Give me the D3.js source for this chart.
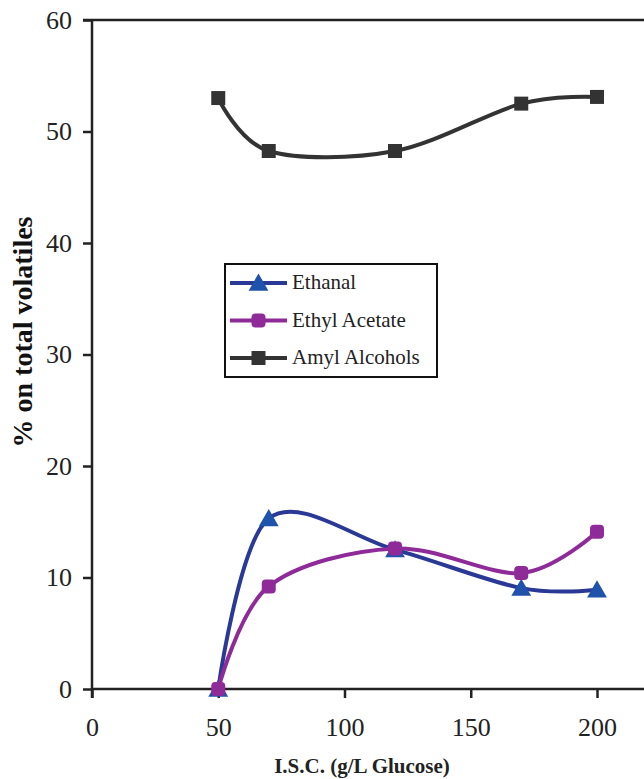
<!DOCTYPE html>
<html>
<head>
<meta charset="utf-8">
<script src="https://cdn.jsdelivr.net/npm/d3@7"></script>
<style>
  body { margin: 0; background: #fff; }
  svg { display: block; }
</style>
</head>
<body>
<script>
// DATA
var glucose = [50, 70, 120, 170, 200];
var ethanal = [0, 15.3, 12.5, 9.05, 8.9];
var ethylAcetate = [0, 9.2, 12.6, 10.4, 14.1];
var amylAlcohols = [53.0, 48.25, 48.25, 52.5, 53.1];
var xTicks = [0, 50, 100, 150, 200];
var yTicks = [0, 10, 20, 30, 40, 50, 60];
var seriesNames = ["Ethanal", "Ethyl Acetate", "Amyl Alcohols"];

var serif = "'Liberation Serif', 'Times New Roman', serif";

// CHART STRUCTURE
var svgWidth = 644, svgHeight = 779;
var margin = {top: 20, left: 92};
var chartWidth = 552;   // axis runs off the right edge
var chartHeight = 669;

var svg = d3.select("body").append("svg")
  .attr("width", svgWidth)
  .attr("height", svgHeight)
  .attr("font-family", serif);

var chartGroup = svg.append("g")
  .attr("transform", `translate(${margin.left}, ${margin.top})`);

// SCALES
var xScale = d3.scaleLinear().domain([0, 200]).range([0, 505]);
var yScale = d3.scaleLinear().domain([0, 60]).range([chartHeight, 0]);

// AXES
var xAxis = d3.axisBottom(xScale).tickValues(xTicks).tickSize(9).tickPadding(20);
var yAxis = d3.axisLeft(yScale).tickValues(yTicks).tickSize(9).tickPadding(11);

var gx = chartGroup.append("g")
  .attr("transform", `translate(0, ${chartHeight})`)
  .call(xAxis);
gx.attr("font-family", serif).attr("font-size", 26);
gx.select(".domain").remove();
gx.selectAll("line").attr("stroke", "#222").attr("stroke-width", 2.5);
gx.selectAll("text").attr("fill", "#222");

var gy = chartGroup.append("g").call(yAxis);
gy.attr("font-family", serif).attr("font-size", 26);
gy.select(".domain").remove();
gy.selectAll("line").attr("stroke", "#222").attr("stroke-width", 2.5);
gy.selectAll("text").attr("fill", "#222");

// axis lines + top frame
chartGroup.append("line")
  .attr("x1", 0).attr("x2", chartWidth)
  .attr("y1", chartHeight).attr("y2", chartHeight)
  .attr("stroke", "#222").attr("stroke-width", 2.5);
chartGroup.append("line")
  .attr("x1", 0).attr("x2", 0)
  .attr("y1", 0).attr("y2", chartHeight + 9)
  .attr("stroke", "#222").attr("stroke-width", 2.5);
chartGroup.append("line")
  .attr("x1", -9).attr("x2", chartWidth)
  .attr("y1", 0).attr("y2", 0)
  .attr("stroke", "#222").attr("stroke-width", 2.5);

// AXIS TITLES
svg.append("text")
  .attr("x", 362).attr("y", 773)
  .attr("text-anchor", "middle")
  .attr("font-size", 21).attr("font-weight", "bold")
  .attr("fill", "#222")
  .text("I.S.C. (g/L Glucose)");

svg.append("text")
  .attr("transform", "translate(32, 332) rotate(-90)")
  .attr("text-anchor", "middle")
  .attr("font-size", 28).attr("font-weight", "bold")
  .attr("fill", "#111")
  .text("% on total volatiles");

// SERIES
var series = [
  {name: seriesNames[0], values: ethanal, line: "#2a3896", fill: "#1f52aa", marker: "triangle"},
  {name: seriesNames[1], values: ethylAcetate, line: "#8e2b98", fill: "#8e2b98", marker: "octagon"},
  {name: seriesNames[2], values: amylAlcohols, line: "#333333", fill: "#333333", marker: "square"}
];

var lineGen = d3.line()
  .x(d => xScale(d[0]))
  .y(d => yScale(d[1]))
  .curve(d3.curveCatmullRom.alpha(0));

function drawMarker(sel, type, fill) {
  if (type === "octagon") {
    sel.append("rect")
      .attr("x", -7).attr("y", -7)
      .attr("width", 14).attr("height", 14)
      .attr("rx", 4)
      .attr("fill", fill);
  } else {
    var sym = type === "triangle"
      ? d3.symbol().type(d3.symbolTriangle).size(170)()
      : d3.symbol().type(d3.symbolSquare).size(196)();
    sel.append("path")
      .attr("d", sym)
      .attr("transform", type === "triangle" ? "translate(0, 2)" : null)
      .attr("fill", fill);
  }
}

series.forEach(function(s) {
  var pts = glucose.map((g, i) => [g, s.values[i]]);
  chartGroup.append("path")
    .datum(pts)
    .attr("d", lineGen)
    .attr("fill", "none")
    .attr("stroke", s.line)
    .attr("stroke-width", 4);

  chartGroup.selectAll(null)
    .data(pts)
    .enter()
    .append("g")
    .attr("transform", d => `translate(${xScale(d[0])}, ${yScale(d[1])})`)
    .each(function() { drawMarker(d3.select(this), s.marker, s.fill); });
});

// LEGEND
var legend = svg.append("g").attr("transform", "translate(225, 264)");
legend.append("rect")
  .attr("width", 212).attr("height", 113)
  .attr("fill", "#fff")
  .attr("stroke", "#111").attr("stroke-width", 2);

series.forEach(function(s, i) {
  var y = 19 + i * 37.5;
  var row = legend.append("g").attr("transform", `translate(0, ${y})`);
  row.append("line")
    .attr("x1", 5).attr("x2", 62)
    .attr("stroke", s.line).attr("stroke-width", 4);
  drawMarker(row.append("g").attr("transform", "translate(33.5, 0)"), s.marker, s.fill);
  row.append("text")
    .attr("x", 67).attr("y", 6)
    .attr("font-size", 21)
    .attr("fill", "#222")
    .text(s.name);
});
</script>
</body>
</html>
